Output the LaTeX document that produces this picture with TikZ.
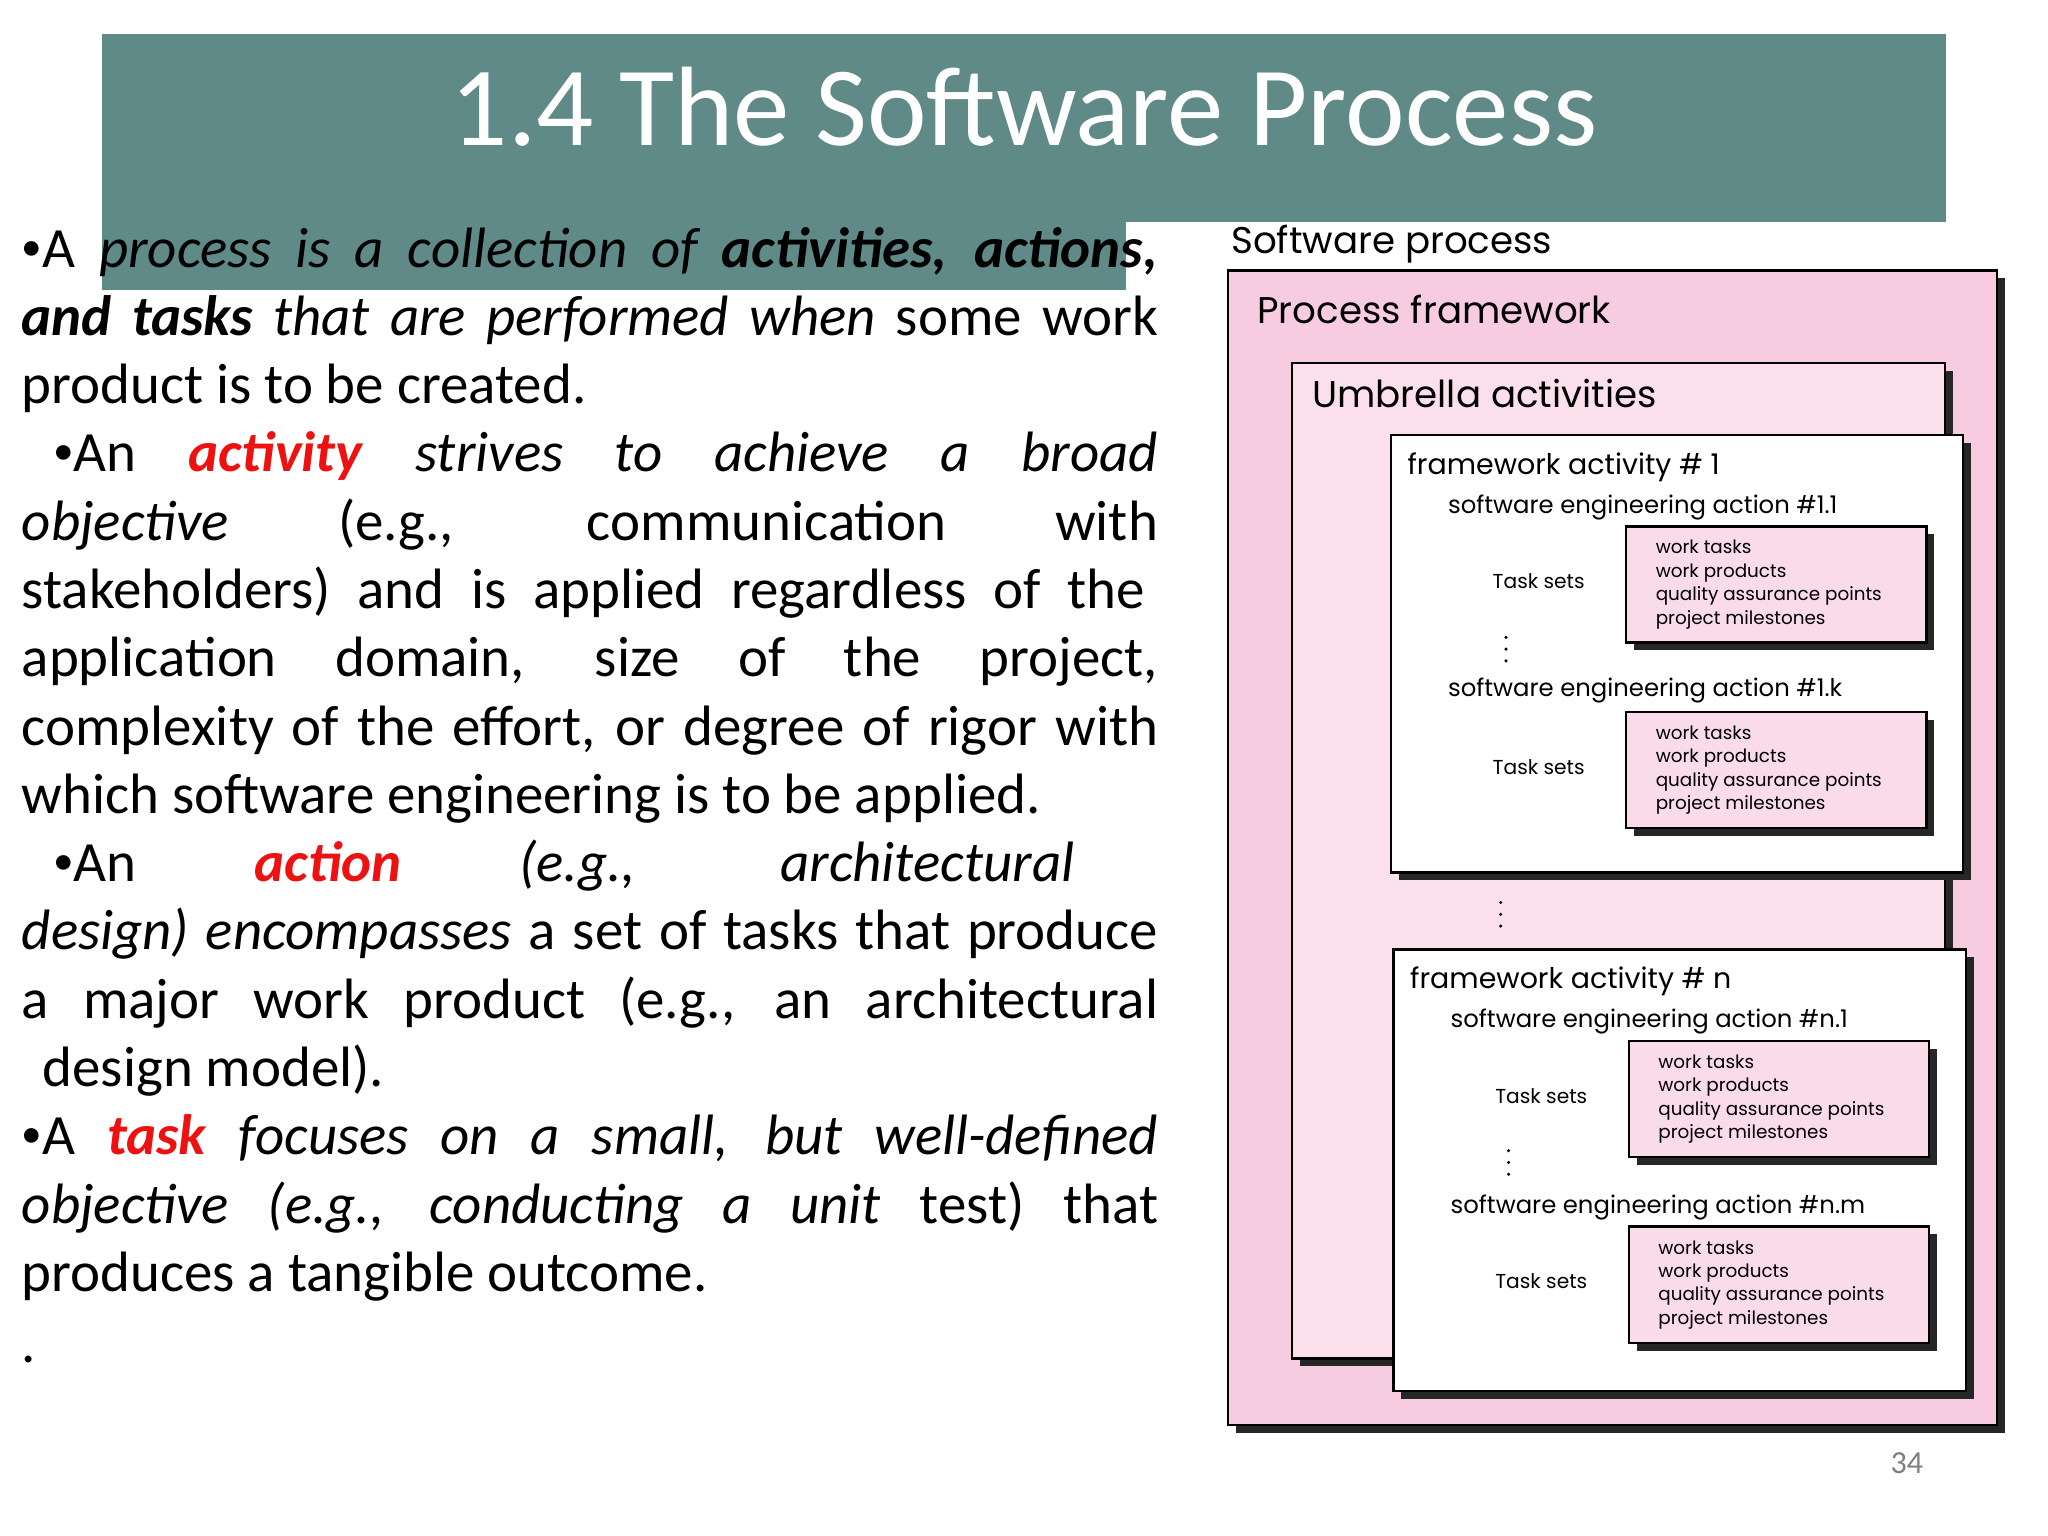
\documentclass[tikz,border=0pt]{standalone}
\usepackage{fontspec}
\setmainfont{Carlito}
\newfontfamily\diag{Poppins}
\definecolor{teal1}{HTML}{5F8A87}
\definecolor{pinkA}{HTML}{F7CCE0}
\definecolor{pinkB}{HTML}{FBE0EC}
\definecolor{redT}{HTML}{EE1111}
\newcommand{\R}[1]{\textcolor{redT}{\textbf{\textit{#1}}}}
\newcommand{\df}[1]{\diag\fontsize{#1}{#1}\selectfont}
\newcommand{\bul}{{\fontsize{9}{9}\selectfont\raisebox{0.35ex}{•}}}
\begin{document}
\begin{tikzpicture}[x=0.1mm,y=-0.1mm,
  bline/.style={anchor=base west,inner sep=0pt,font=\fontsize{12.4}{14}\selectfont},
  pbox/.style={draw=black,line width=0.5pt,fill=pinkB},
  wbox/.style={draw=black,line width=0.5pt,fill=white},
  shad/.style={fill=black!85},
  dl/.style={anchor=base west,inner sep=0pt}]
\useasboundingbox (0,0) rectangle (1568,1176);
\fill[white] (0,0) rectangle (1568,1176);
% title bar
\fill[teal1] (78,26) rectangle (1490,170);
\fill[teal1] (78,170) rectangle (862,222);
\node[text=white,font=\fontsize{24.6}{26}\selectfont] (title) at (784,82) {1.4 The Software Process};
% body text
\def\L#1#2#3{\node[bline] at (#1,#2) {#3};}
\def\J#1#2#3#4{\node[bline] at (#1,#2) {\hbox to #3mm{#4}};}
\J{16}{205}{87}{\bul A \textit{process is a collection of \textbf{activities, actions,}}}
\J{16}{257}{87}{\textit{\textbf{and tasks} that are performed when} some work}
\L{16}{309}{product is to be created.}
\J{40}{361}{84.6}{\bul An \R{activity} \textit{strives to achieve a broad}}
\J{16}{414}{87}{\textit{objective} (e.g., communication with}
\J{16}{466}{86}{stakeholders) and is applied regardless of the}
\J{16}{518}{87}{application domain, size of the project,}
\J{16}{571}{87}{complexity of the effort, or degree of rigor with}
\L{16}{623}{which software engineering is to be applied.}
\J{40}{675}{78.2}{\bul An \R{action} \textit{(e.g., architectural}}
\J{16}{727}{87}{\textit{design) encompasses} a set of tasks that produce}
\J{16}{780}{87}{a major work product (e.g., an architectural}
\L{32}{832}{design model).}
\J{16}{884}{87}{\bul A \R{task} \textit{focuses on a small, but well-defined}}
\J{16}{937}{87}{\textit{objective (e.g., conducting a unit} test) that}
\L{16}{989}{produces a tangible outcome.}
\L{16}{1043}{.}
% diagram
\node[dl,font=\df{8.1}] (sp) at (942,194) {Software process};
\fill[shad] (946,213) rectangle (1535,1097);
\draw[pbox,fill=pinkA] (940,207) rectangle (1529,1091);
\node[dl,font=\df{8.1}] (pf) at (962,248) {Process framework};
\fill[shad] (995,284) rectangle (1495,1046);
\draw[pbox] (989,278) rectangle (1489,1040);
\node[dl,font=\df{8.1}] (ua) at (1004,312) {Umbrella activities};
% framework activity 1
\fill[shad] (1071,339) rectangle (1509,674);
\draw[wbox] (1065,333) rectangle (1503,668);
\node[dl,font=\df{6.2}] (fa1) at (1077,363) {framework activity \# 1};
\node[dl,font=\df{5.3}] (a11) at (1108,393) {software engineering action \#1.1};
\node[dl,font=\df{5.3}] (a1k) at (1108,533) {software engineering action \#1.k};
% framework activity n
\fill[shad] (1073,733) rectangle (1511,1071);
\draw[wbox] (1067,727) rectangle (1505,1065);
\node[dl,font=\df{6.2}] (fan) at (1079,757) {framework activity \# n};
\node[dl,font=\df{5.3}] (an1) at (1110,787) {software engineering action \#n.1};
\node[dl,font=\df{5.3}] (anm) at (1110,929) {software engineering action \#n.m};
% task boxes
\foreach \x/\y [count=\i] in {1245/403,1245/545,1247/797,1247/939}{
  \fill[shad] (\x+6,\y+6) rectangle (\x+236,\y+95);
  \draw[pbox,fill=pinkA!70] (\x,\y) rectangle (\x+230,\y+89);
  \node[anchor=north west,inner sep=0pt,align=left,font=\diag\fontsize{4.0}{5.1}\selectfont] (tb\i) at (\x+22,\y+10) {work tasks\\work products\\quality assurance points\\project milestones};
  \node[font=\df{4.4}] (ts\i) at (\x-67,\y+42) {Task sets};
}
% dots
\foreach \x/\y in {1153/497,1149/700,1155/890}{
  \foreach \d in {-9,0,9} \fill (\x,\y+\d) circle (1.3);
}
\node[text=black!50,font=\fontsize{7}{8}\selectfont] (pn) at (1460,1120) {34};
\end{tikzpicture}
\end{document}
